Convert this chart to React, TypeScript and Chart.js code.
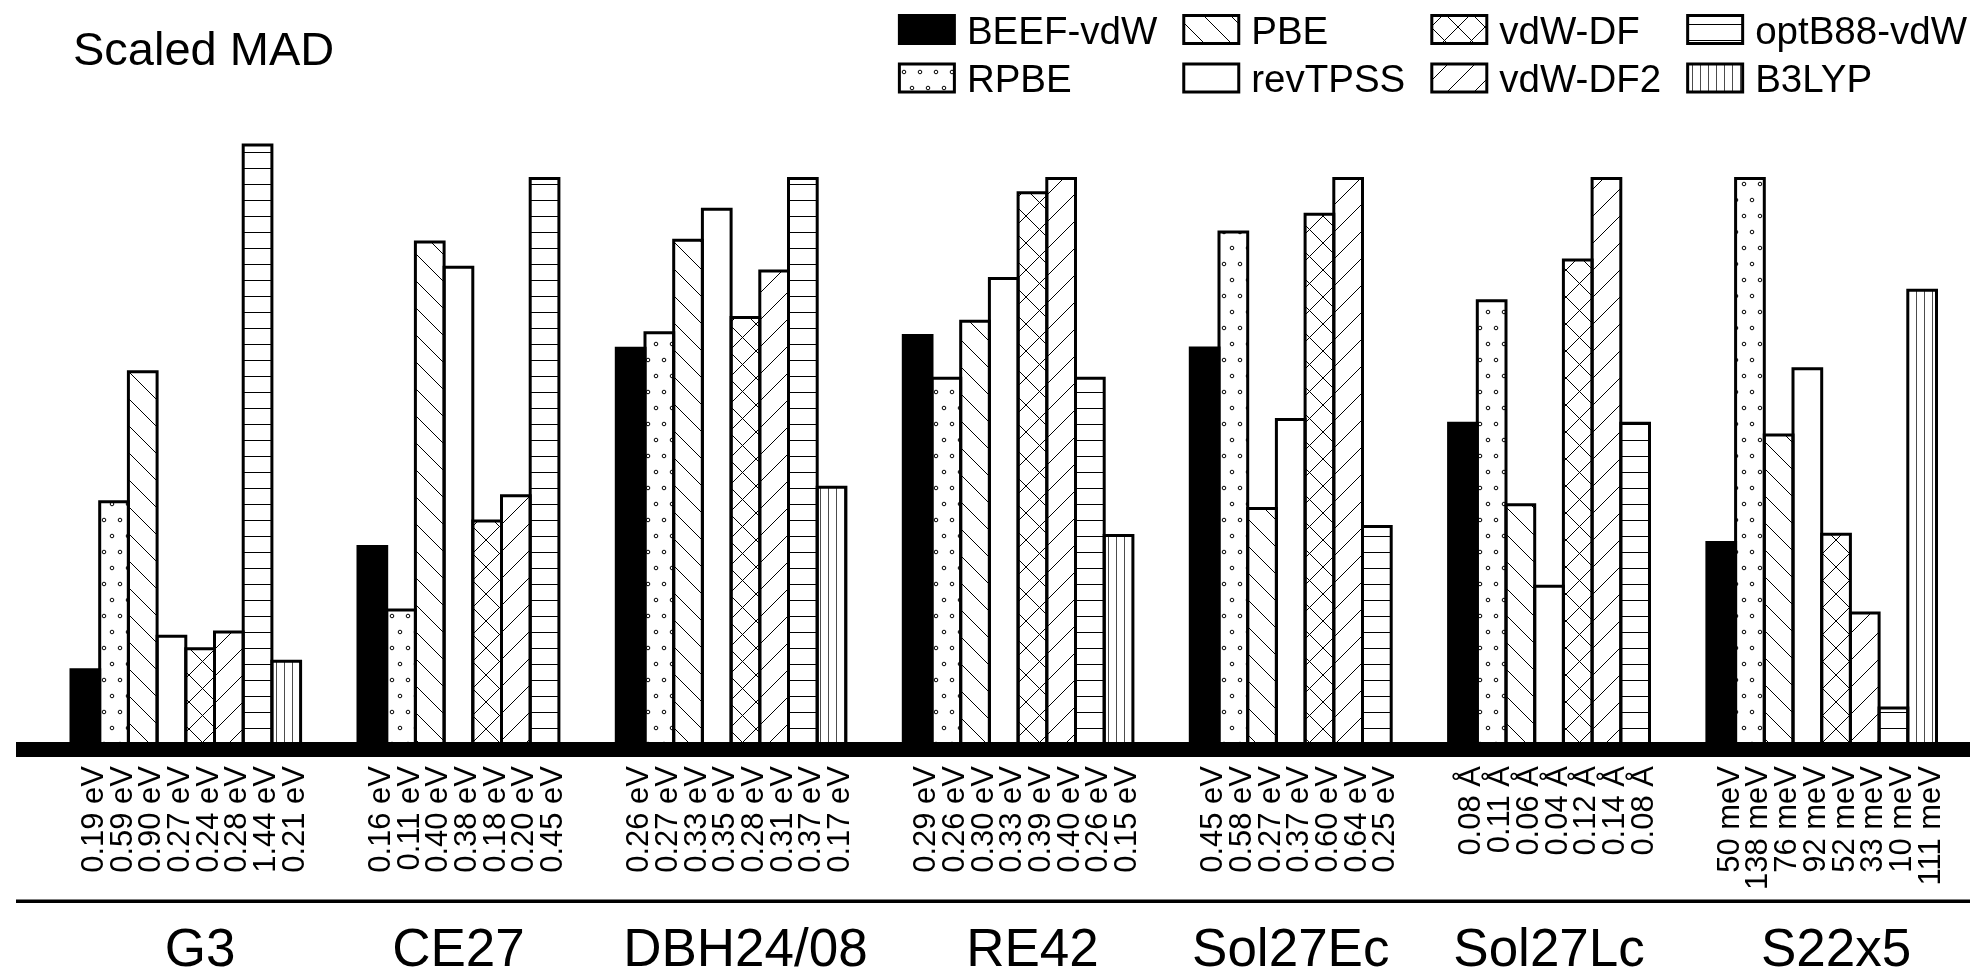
import React, { useEffect, useRef } from 'react';
import { Chart, registerables } from 'chart.js';

Chart.register(...registerables);

const FONT = '"Liberation Sans", Arial, Helvetica, sans-serif';

// Benchmark sets along the x axis
const groups = ['G3', 'CE27', 'DBH24/08', 'RE42', 'Sol27Ec', 'Sol27Lc', 'S22x5'];
const groupUnits = ['eV', 'eV', 'eV', 'eV', 'eV', 'Å', 'meV'];
const groupDecimals = [2, 2, 2, 2, 2, 2, 0];
// Reference MAD each set is divided by (bar height 1 = this value)
const groupScale = [1.36, 0.45, 0.37, 0.4, 0.64, 0.14, 138];

// Functionals (one dataset each) and their fill styles
const methods = ['BEEF-vdW', 'RPBE', 'PBE', 'revTPSS', 'vdW-DF', 'vdW-DF2', 'optB88-vdW', 'B3LYP'];
const hatches = ['solid', 'rings', 'back', 'none', 'cross', 'fwd', 'horiz', 'vert'];

// Mean absolute deviations per functional, in the order of `methods` (null = not computed)
const madG3 = [0.19, 0.59, 0.9, 0.27, 0.24, 0.28, 1.44, 0.21];
const madCE27 = [0.16, 0.11, 0.4, 0.38, 0.18, 0.2, 0.45, null];
const madDBH = [0.26, 0.27, 0.33, 0.35, 0.28, 0.31, 0.37, 0.17];
const madRE42 = [0.29, 0.26, 0.3, 0.33, 0.39, 0.4, 0.26, 0.15];
const madSol27Ec = [0.45, 0.58, 0.27, 0.37, 0.6, 0.64, 0.25, null];
const madSol27Lc = [0.08, 0.11, 0.06, 0.04, 0.12, 0.14, 0.08, null];
const madS22x5 = [50, 138, 76, 92, 52, 33, 10, 111];
const madByGroup = [madG3, madCE27, madDBH, madRE42, madSol27Ec, madSol27Lc, madS22x5];

// Empty slots before the first set, between sets and after the last set
const LEAD_SLOTS = 2;
const GAP_SLOTS = 2;
const TAIL_SLOTS = 1;

type Slot = { first: number; count: number };

function buildSlots() {
  const labels: string[] = [];
  const series: (number | null)[][] = methods.map(() => []);
  const spans: Slot[] = [];
  const pushEmpty = (n: number) => {
    for (let i = 0; i < n; i++) {
      labels.push('');
      series.forEach((s) => s.push(null));
    }
  };
  pushEmpty(LEAD_SLOTS);
  madByGroup.forEach((vals, g) => {
    if (g > 0) pushEmpty(GAP_SLOTS);
    const first = labels.length;
    let count = 0;
    vals.forEach((v, m) => {
      if (v == null) return;
      labels.push(`${v.toFixed(groupDecimals[g])} ${groupUnits[g]}`);
      series.forEach((s, k) => s.push(k === m ? v / groupScale[g] : null));
      count++;
    });
    spans.push({ first, count });
  });
  pushEmpty(TAIL_SLOTS);
  return { labels, series, spans };
}

function makeFill(kind: string): string | CanvasPattern {
  if (kind === 'solid') return '#000000';
  if (kind === 'none') return '#ffffff';
  const tile = document.createElement('canvas');
  let w = 16;
  let h = 16;
  if (kind === 'rings') { w = 16; h = 32; }
  if (kind === 'back' || kind === 'fwd' || kind === 'cross') { w = 27; h = 27; }
  if (kind === 'vert') { w = 8; h = 8; }
  tile.width = w;
  tile.height = h;
  const c = tile.getContext('2d')!;
  c.fillStyle = '#ffffff';
  c.fillRect(0, 0, w, h);
  c.strokeStyle = '#000000';
  c.fillStyle = '#000000';
  c.lineWidth = 1;
  if (kind === 'rings') {
    const pts = [[8, 8], [0, 24], [16, 24]];
    pts.forEach(([px, py]) => {
      c.beginPath();
      c.arc(px, py, 1.8, 0, Math.PI * 2);
      c.stroke();
    });
  }
  const diag = (down: boolean) => {
    for (let k = -1; k <= 1; k++) {
      c.beginPath();
      if (down) {
        c.moveTo(k * w - 2, -2);
        c.lineTo(k * w + w + 2, h + 2);
      } else {
        c.moveTo(k * w - 2, h + 2);
        c.lineTo(k * w + w + 2, -2);
      }
      c.stroke();
    }
  };
  if (kind === 'back') diag(true);
  if (kind === 'fwd') diag(false);
  if (kind === 'cross') { diag(true); diag(false); }
  if (kind === 'horiz') c.fillRect(0, 8, w, 1);
  if (kind === 'vert') {
    c.globalAlpha = 0.7;
    c.fillRect(4, 0, 1, h);
  }
  return c.createPattern(tile, 'repeat')!;
}

export default function App() {
  const canvasRef = useRef<HTMLCanvasElement | null>(null);

  useEffect(() => {
    document.body.style.margin = '0';
    document.body.style.overflow = 'hidden';
    let chart: Chart | null = null;
    let cancelled = false;

    const create = () => {
      if (cancelled || !canvasRef.current) return;
      const { labels, series, spans } = buildSlots();
      const fills = hatches.map(makeFill);

      const decor = {
        id: 'decor',
        afterDatasetsDraw(ch: any) {
          const { ctx } = ch;
          ctx.save();
          ctx.lineWidth = 3;
          ctx.strokeStyle = '#000';
          ctx.lineJoin = 'miter';
          ch.data.datasets.forEach((ds: any, i: number) => {
            const meta = ch.getDatasetMeta(i);
            meta.data.forEach((el: any, j: number) => {
              if (ds.data[j] == null) return;
              const { x, y, base, width } = el.getProps(['x', 'y', 'base', 'width'], true);
              const l = x - width / 2;
              const r = x + width / 2;
              ctx.beginPath();
              ctx.moveTo(l, base);
              ctx.lineTo(l, y);
              ctx.lineTo(r, y);
              ctx.lineTo(r, base);
              ctx.stroke();
            });
          });
          ctx.restore();
        },
        afterDraw(ch: any) {
          const { ctx, chartArea } = ch;
          const xs = ch.scales.x;
          const zeroY = chartArea.bottom;
          ctx.save();
          // thick axis band centred on zero, and the lower rule
          ctx.fillStyle = '#000';
          ctx.fillRect(16, zeroY - 7.5, ch.width - 16, 15);
          ctx.fillRect(16, zeroY + 150, ch.width - 16, 3.5);

          // set names, under the middle bar of each set
          ctx.font = `53px ${FONT}`;
          ctx.textAlign = 'center';
          ctx.textBaseline = 'alphabetic';
          spans.forEach((s, g) => {
            const px = xs.getPixelForValue(s.first + Math.floor(s.count / 2));
            ctx.fillText(groups[g], px, zeroY + 216.5);
          });

          // title
          ctx.font = `47px ${FONT}`;
          ctx.textAlign = 'left';
          ctx.fillText('Scaled MAD', 73, 65);

          // legend: 4 columns x 2 rows, filled column by column
          ctx.font = `38.5px ${FONT}`;
          const rows = 2;
          const cols = Math.ceil(methods.length / rows);
          const boxW = 58;
          const boxH = 31;
          const textGap = 11;
          const colGap = 25;
          const colW: number[] = [];
          for (let c = 0; c < cols; c++) {
            let m = 0;
            for (let r = 0; r < rows; r++) {
              const k = c * rows + r;
              if (k < methods.length) m = Math.max(m, ctx.measureText(methods[k]).width);
            }
            colW.push(boxW + textGap + m);
          }
          const total = colW.reduce((a, b) => a + b, 0) + colGap * (cols - 1);
          let x0 = ch.width - 3 - total;
          for (let c = 0; c < cols; c++) {
            for (let r = 0; r < rows; r++) {
              const k = c * rows + r;
              if (k >= methods.length) continue;
              const by = 14 + r * 48.5;
              ctx.fillStyle = fills[k];
              ctx.fillRect(x0 + 1.5, by + 1.5, boxW - 3, boxH - 3);
              ctx.lineWidth = 3;
              ctx.strokeStyle = '#000';
              ctx.strokeRect(x0 + 1.5, by + 1.5, boxW - 3, boxH - 3);
              ctx.fillStyle = '#000';
              ctx.textAlign = 'left';
              ctx.fillText(methods[k], x0 + boxW + textGap, 44 + r * 48);
            }
            x0 += colW[c] + colGap;
          }
          ctx.restore();
        },
      };

      chart = new Chart(canvasRef.current, {
        type: 'bar',
        data: {
          labels,
          datasets: methods.map((name, k) => ({
            label: name,
            data: series[k],
            backgroundColor: fills[k],
            borderWidth: 0,
            grouped: false,
            categoryPercentage: 1,
            barPercentage: 1,
          })),
        },
        options: {
          responsive: false,
          animation: false,
          events: [],
          layout: { padding: { top: 121.4, left: 13.6, right: 4.8, bottom: 0 } },
          plugins: {
            legend: { display: false },
            tooltip: { enabled: false },
            title: { display: false },
          },
          scales: {
            x: {
              type: 'category',
              offset: true,
              grid: { display: false, drawTicks: false },
              border: { display: false },
              ticks: {
                autoSkip: false,
                minRotation: 90,
                maxRotation: 90,
                padding: 16.5,
                labelOffset: 9,
                color: '#000',
                font: { family: FONT, size: 31 },
              },
              afterFit: (s: any) => {
                s.height = 222.5;
                s.paddingLeft = 0;
                s.paddingRight = 0;
              },
            },
            y: { display: false, min: 0, max: 1.1 },
          },
        },
        plugins: [decor],
      } as any);
    };

    const fontsApi = (document as any).fonts;
    if (fontsApi && fontsApi.load) {
      fontsApi.load(`30px "Liberation Sans"`).then(create, create);
    } else {
      create();
    }

    return () => {
      cancelled = true;
      if (chart) chart.destroy();
    };
  }, []);

  return (
    <div style={{ width: 1970, height: 972, background: '#fff' }}>
      <canvas ref={canvasRef} width={1970} height={972} style={{ display: 'block' }} />
    </div>
  );
}
